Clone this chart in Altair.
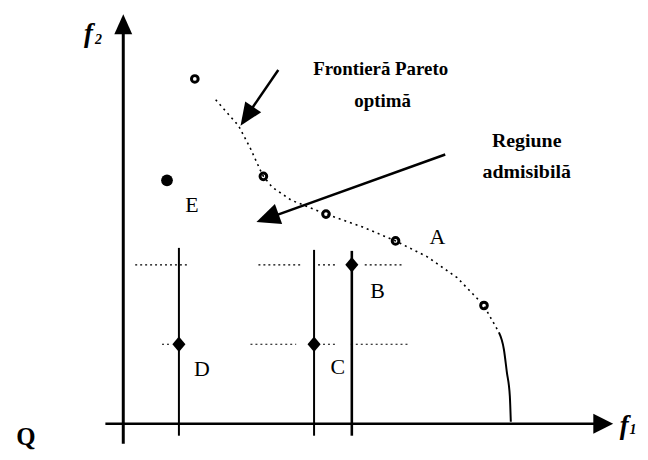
import altair as alt
import pandas as pd

# ---- data (f1 / f2 units) ----
pareto_f1 = [7.2, 14.1, 20.4, 27.4, 36.3]
pareto_f2 = [34.7, 24.9, 21.1, 18.4, 11.9]

front_f1 = [9.3, 11.6, 12.8, 13.8, 14.1, 15.0, 16.9, 20.4, 24.1, 27.4, 30.6, 33.6, 36.3, 36.9, 37.8]
front_f2 = [32.6, 30.0, 27.7, 25.5, 24.9, 23.8, 22.5, 21.1, 19.8, 18.4, 16.8, 14.7, 11.9, 10.8, 9.2]

edge_f1 = [37.8, 38.3, 38.6, 38.9, 39.0]
edge_f2 = [9.2, 7.5, 5.2, 2.8, 0.2]

e_f1 = [4.4]
e_f2 = [24.5]

dia_names = ["D", "C", "B"]
dia_f1 = [5.6, 19.2, 23.0]
dia_f2 = [8.0, 8.0, 16.0]
dia_top = [17.7, 17.5, 17.4]
dia_bottom = [-1.2, -1.2, -1.2]
dia_width = [2.0, 2.0, 2.6]

hseg_y = [16.0, 16.0, 16.0, 16.0, 8.0, 8.0, 8.0, 8.0]
hseg_x1 = [1.2, 13.6, 19.6, 24.3, 3.9, 12.8, 20.1, 22.9]
hseg_x2 = [6.4, 17.8, 21.3, 28.0, 4.8, 17.4, 21.3, 28.8]

lab_text = ["E", "D", "C", "B", "A"]
lab_f1 = [6.9, 7.9, 21.6, 25.6, 31.6]
lab_f2 = [22.0, 5.5, 5.7, 13.4, 18.8]

note_text = ["Frontieră Pareto", "optimă", "Regiune", "admisibilă"]
note_f1 = [25.9, 26.1, 40.6, 40.6]
note_f2 = [35.7, 32.5, 28.5, 25.3]
note_size = [19, 19, 20, 20]

# axes
yaxis = dict(x=0.0, y=-2.0, x2=0.0, y2=39.5)
xaxis = dict(x=-1.8, y=0.0, x2=47.8, y2=0.0)
ytip = (0.0, 41.2)
xtip = (49.3, 0.0)

# annotation arrows: start, shaft end, tip
arr1 = dict(x=15.6, y=35.6, x2=12.3, y2=30.8, tx=11.8, ty=30.0)
arr2 = dict(x=32.4, y=27.1, x2=14.3, y2=20.6, tx=13.4, ty=20.3)

xs = alt.Scale(domain=[-11.6, 52.0], nice=False, zero=False)
ys = alt.Scale(domain=[-2.7, 41.7], nice=False, zero=False)


def X(f="x"):
    return alt.X(f"{f}:Q", scale=xs, axis=None)


def Y(f="y"):
    return alt.Y(f"{f}:Q", scale=ys, axis=None)


def rules(df, **kw):
    return alt.Chart(df).mark_rule(color="black", **kw).encode(
        x=X("x"), y=Y("y"), x2="x2:Q", y2="y2:Q"
    )


axis_lines = pd.DataFrame([
    dict(yaxis, w=3.0),
    dict(xaxis, w=2.6),
])
axes = alt.Chart(axis_lines).mark_rule(color="black").encode(
    x=X("x"), y=Y("y"), x2="x2:Q", y2="y2:Q",
    strokeWidth=alt.StrokeWidth("w:Q", scale=None),
)

arrow_df = pd.DataFrame([
    dict(x=arr1["x"], y=arr1["y"], x2=arr1["x2"], y2=arr1["y2"]),
    dict(x=arr2["x"], y=arr2["y"], x2=arr2["x2"], y2=arr2["y2"]),
])
arrow_shafts = rules(arrow_df, strokeWidth=2.5)


def head(px, py, shape, angle, size=400):
    return alt.Chart(pd.DataFrame({"x": [px], "y": [py]})).mark_point(
        shape=shape, filled=True, color="black", size=size, angle=angle, opacity=1
    ).encode(x=X(), y=Y())


heads = [
    head(ytip[0], ytip[1], "M0,0L0.9,2L-0.9,2Z", 0),
    head(xtip[0], xtip[1], "M0,0L1,2L-1,2Z", 90),
    head(arr1["tx"], arr1["ty"], "M0,0L0.85,2L-0.85,2Z", 214, 520),
    head(arr2["tx"], arr2["ty"], "M0,0L0.9,2L-0.9,2Z", 250, 560),
]

front_df = pd.DataFrame({"x": front_f1, "y": front_f2, "o": list(range(len(front_f1)))})
frontier = alt.Chart(front_df).mark_line(
    color="black", strokeWidth=1.6, strokeDash=[2, 4]
).encode(x=X(), y=Y(), order="o:Q")

edge_df = pd.DataFrame({"x": edge_f1, "y": edge_f2, "o": list(range(len(edge_f1)))})
edge = alt.Chart(edge_df).mark_line(
    color="black", strokeWidth=2.0, interpolate="monotone"
).encode(x=X(), y=Y(), order="o:Q")

hseg_df = pd.DataFrame({"x": hseg_x1, "x2": hseg_x2, "y": hseg_y, "y2": hseg_y})
hsegs = rules(hseg_df, strokeWidth=1.2, strokeDash=[2, 3])

vert_df = pd.DataFrame({"x": dia_f1, "x2": dia_f1, "y": dia_bottom, "y2": dia_top, "w": dia_width})
verts = alt.Chart(vert_df).mark_rule(color="black").encode(
    x=X("x"), y=Y("y"), x2="x2:Q", y2="y2:Q",
    strokeWidth=alt.StrokeWidth("w:Q", scale=None),
)

dia_df = pd.DataFrame({"x": dia_f1, "y": dia_f2, "n": dia_names})
diamonds = alt.Chart(dia_df).mark_point(
    shape="M-0.85,0L0,-1L0.85,0L0,1Z", filled=True, color="black", size=240, opacity=1
).encode(x=X(), y=Y())

par_df = pd.DataFrame({"x": pareto_f1, "y": pareto_f2})
pareto = alt.Chart(par_df).mark_point(
    shape="circle", filled=False, color="black", size=45, strokeWidth=3.0, opacity=1
).encode(x=X(), y=Y())

e_df = pd.DataFrame({"x": e_f1, "y": e_f2})
e_point = alt.Chart(e_df).mark_point(
    shape="circle", filled=True, color="black", size=140, opacity=1
).encode(x=X(), y=Y())

lab_df = pd.DataFrame({"x": lab_f1, "y": lab_f2, "t": lab_text})
labels = alt.Chart(lab_df).mark_text(
    font="Liberation Serif", fontSize=22, color="black", align="center", baseline="middle"
).encode(x=X(), y=Y(), text="t:N")

note_df = pd.DataFrame({"x": note_f1, "y": note_f2, "t": note_text, "s": note_size})
notes = alt.Chart(note_df).mark_text(
    font="Liberation Serif", fontWeight="bold", color="black",
    align="center", baseline="middle"
).encode(x=X(), y=Y(), text="t:N", size=alt.Size("s:Q", scale=None))

ax_txt_df = pd.DataFrame({
    "x": [-3.5, -2.5, 50.4, 51.3],
    "y": [39.2, 38.6, -0.2, -0.6],
    "t": ["f", "2", "f", "1"],
    "s": [27, 14, 27, 14],
})
ax_txt = alt.Chart(ax_txt_df).mark_text(
    font="Liberation Serif", fontStyle="italic", fontWeight="bold", color="black",
    align="center", baseline="middle"
).encode(x=X(), y=Y(), text="t:N", size=alt.Size("s:Q", scale=None))

q_df = pd.DataFrame({"x": [-9.8], "y": [-1.3], "t": ["Q"]})
q_txt = alt.Chart(q_df).mark_text(
    font="Liberation Serif", fontSize=25, fontWeight="bold", color="black",
    align="center", baseline="middle"
).encode(x=X(), y=Y(), text="t:N")

chart = alt.layer(
    hsegs, verts, frontier, edge, axes, arrow_shafts, *heads,
    diamonds, pareto, e_point, labels, notes, ax_txt, q_txt,
).properties(
    width=636, height=444, padding=0,
    autosize=alt.AutoSizeParams(type="none"),
    background="white",
).configure_view(stroke=None)

chart.save("out.html", embed_options={"renderer": "svg", "actions": False})
